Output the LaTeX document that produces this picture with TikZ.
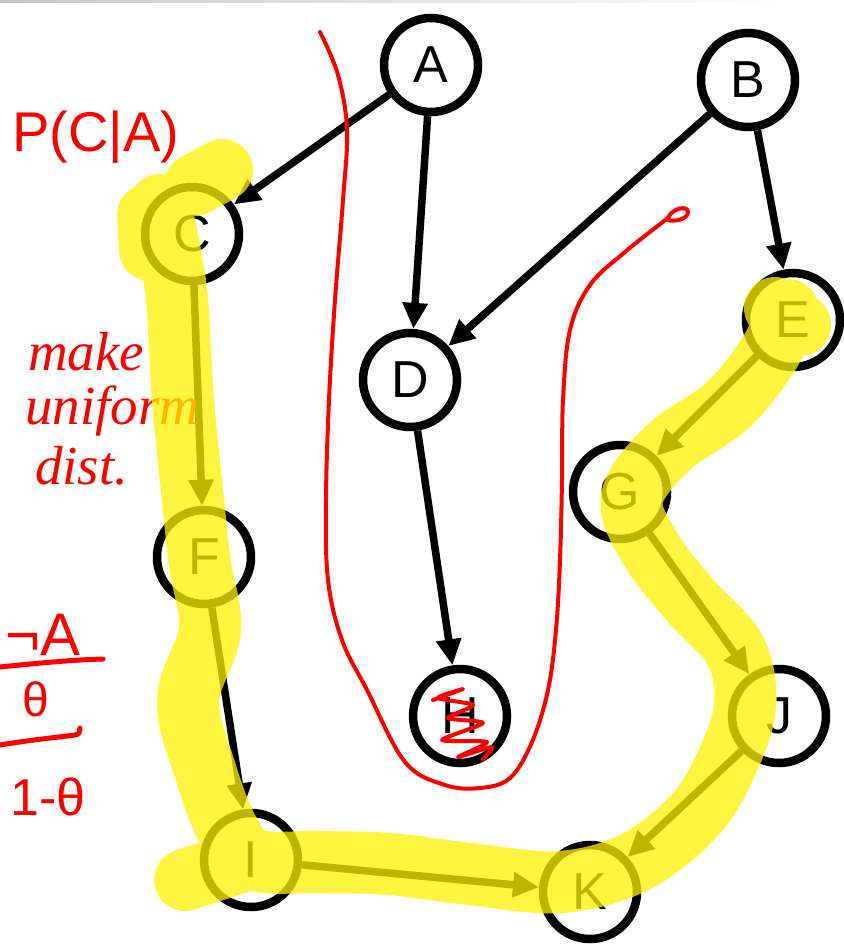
\documentclass[tikz,border=0pt]{standalone}
\usepackage{fontspec}
\setmainfont{Liberation Sans}
\newfontfamily\handfont{Liberation Serif}
\usetikzlibrary{arrows.meta}
\begin{document}
\begin{tikzpicture}[x=1pt,y=-1pt,
  var/.style={circle,draw,line width=8.5pt,minimum size=94pt,inner sep=0pt,
    font=\fontsize{52}{60}\selectfont},
  edge/.style={line width=7.5pt,-{Triangle[length=26pt,width=24pt]}},
  hilite/.style={yellow,opacity=0.75,line width=62pt,line cap=round,line join=round},
  ink/.style={red,line width=4pt,line cap=round,line join=round},
  pen/.style={red,line width=5pt,line cap=round,line join=round},
  hand/.style={text=red,inner sep=0pt,anchor=base west}
]
\useasboundingbox (0,0) rectangle (843,944);
\shade[left color=black!22,right color=white] (0,0) rectangle (800,3);

% network nodes
\node[var] (A) at (431,65) {A};
\node[var] (B) at (748,80) {B};
\node[var] (C) at (192,234) {C};
\node[var] (D) at (410,380) {D};
\node[var] (E) at (793,320) {E};
\node[var] (F) at (204,557) {F};
\node[var] (G) at (620,492) {G};
\node[var] (H) at (460,716) {H};
\node[var] (I) at (251,860) {I};
\node[var] (J) at (779,716) {J};
\node[var] (K) at (590,892) {K};

% directed edges
\draw[edge] (A) -- (C);
\draw[edge] (A) -- (D);
\draw[edge] (B) -- (D);
\draw[edge] (B) -- (E);
\draw[edge] (C) -- (F);
\draw[edge] (D) -- (H);
\draw[edge] (E) -- (G);
\draw[edge] (F) -- (I);
\draw[edge] (G) -- (J);
\draw[edge] (J) -- (K);
\draw[edge] (I) -- (K);

% handwritten notes
\node[hand,font=\fontsize{56}{62}\selectfont] (pca) at (12,152) {P(C|A)};
\node[hand,font=\handfont\itshape\fontsize{55}{60}\selectfont] (mk) at (28,370) {make};
\node[hand,font=\handfont\itshape\fontsize{55}{60}\selectfont] (un) at (25,424) {uniform};
\node[hand,font=\handfont\itshape\fontsize{55}{60}\selectfont] (ds) at (35,484) {dist.};
\node[hand,font=\fontsize{60}{66}\selectfont] (na) at (5,655) {¬A};
\node[hand,font=\fontsize{48}{54}\selectfont] (th) at (22,716) {θ};
\node[hand,font=\fontsize{52}{58}\selectfont] (omt) at (10,815) {1-θ};
\coordinate (r1a) at (0,667);
\coordinate (r1b) at (103,659);
\coordinate (r2a) at (0,745);
\coordinate (r2b) at (75,735);
\coordinate (r2c) at (80,728);
\draw[pen] (r1a) .. controls (40,663) and (70,660) .. (r1b);
\draw[pen] (r2a) .. controls (30,740) and (60,737) .. (r2b) .. controls (79,734) .. (r2c);

% highlighted path C-F-I-K-J-G-E
\draw[hilite] plot[smooth,tension=0.6] coordinates {
  (160,205) (176,290) (183,400) (193,500) (200,565) (210,630)
  (188,700) (205,770) (228,830) (255,860) (320,862) (390,864)
  (470,874) (560,882) (635,862) (695,815) (728,760) (745,705)
  (735,650) (690,600) (650,548) (632,498) (668,448) (728,405)
  (770,352) (788,310)}
  (185,880) -- (240,862)
  (195,185) -- (222,170)
  (150,250) -- (148,215)
  (775,308) -- (800,325);

% hand-drawn separation curve
\draw[ink] plot[smooth,tension=0.6] coordinates {
  (320,32) (338,75) (347,130) (343,200) (335,300) (329,400) (326,500)
  (328,580) (342,640) (367,690) (405,762) (445,785) (480,788) (510,778)
  (532,742) (548,690) (556,630) (560,560) (562,480) (563,400) (570,330)
  (590,285) (625,252) (668,218)}
  .. controls (672,208) and (688,205) .. (688,212)
  .. controls (688,220) and (672,222) .. (668,220);

% scribble over H
\draw[ink] plot[smooth,tension=0.4] coordinates {
  (433,700) (463,689) (438,698) (473,705) (448,718) (483,723)
  (442,740) (487,742) (458,757) (492,747) (483,759)};
\end{tikzpicture}
\end{document}
